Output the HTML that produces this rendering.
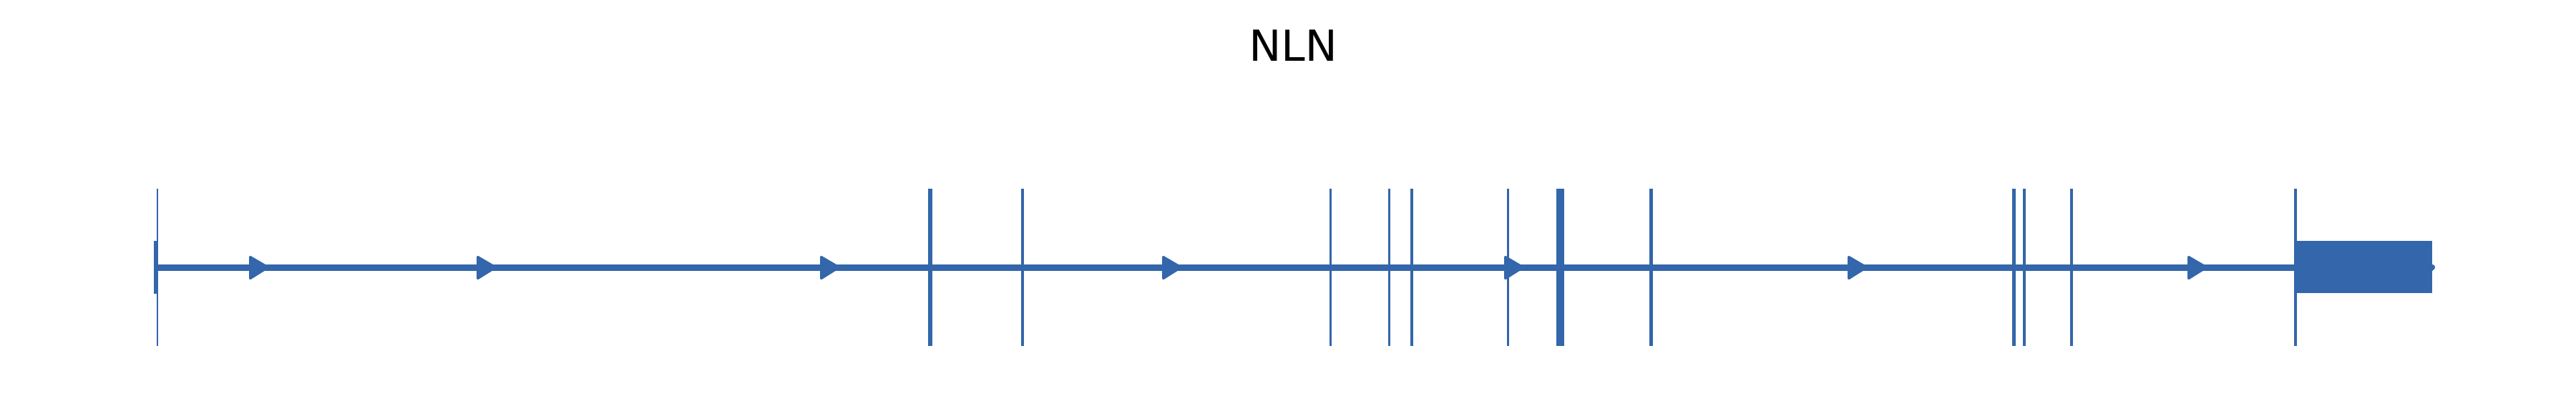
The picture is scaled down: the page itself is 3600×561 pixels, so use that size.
<!DOCTYPE html>
<html><head><meta charset="utf-8"><style>
html,body{margin:0;padding:0;background:#fff;width:3600px;height:561px;overflow:hidden}
</style></head><body>
<svg width="3600" height="561" viewBox="0 0 3600 561" xmlns="http://www.w3.org/2000/svg">
<text x="1807" y="85" font-family="DejaVu Sans, Liberation Sans, sans-serif" font-size="60" text-anchor="middle" fill="#000">NLN</text>
<g fill="#3366ab" stroke="none">
<rect x="217" y="370" width="3183" height="9"/>
<rect x="215" y="337" width="5" height="74"/>
<rect x="219" y="264" width="2" height="220"/>
<rect x="1297" y="264" width="6" height="220"/>
<rect x="1427" y="264" width="4" height="220"/>
<rect x="1858" y="264" width="3" height="220"/>
<rect x="1940" y="264" width="3" height="220"/>
<rect x="1971" y="264" width="4" height="220"/>
<rect x="2106" y="264" width="3" height="220"/>
<rect x="2175" y="264" width="11" height="220"/>
<rect x="2305" y="264" width="5" height="220"/>
<rect x="2812" y="264" width="5" height="220"/>
<rect x="2827" y="264" width="4" height="220"/>
<rect x="2893" y="264" width="4" height="220"/>
<rect x="3206" y="264" width="4" height="220"/>
<rect x="3207" y="337" width="192" height="73"/>
<circle cx="3399" cy="374" r="4"/>
</g>
<g fill="#3366ab" stroke="#3366ab" stroke-width="4" stroke-linejoin="round">
<polygon points="350,360 350,389 374,374"/>
<polygon points="668,360 668,389 692,374"/>
<polygon points="1148,360 1148,389 1172,374"/>
<polygon points="1626,360 1626,389 1650,374"/>
<polygon points="2104,360 2104,389 2128,374"/>
<polygon points="2584,360 2584,389 2608,374"/>
<polygon points="3059,360 3059,389 3083,374"/>
</g>
</svg>
</body></html>
